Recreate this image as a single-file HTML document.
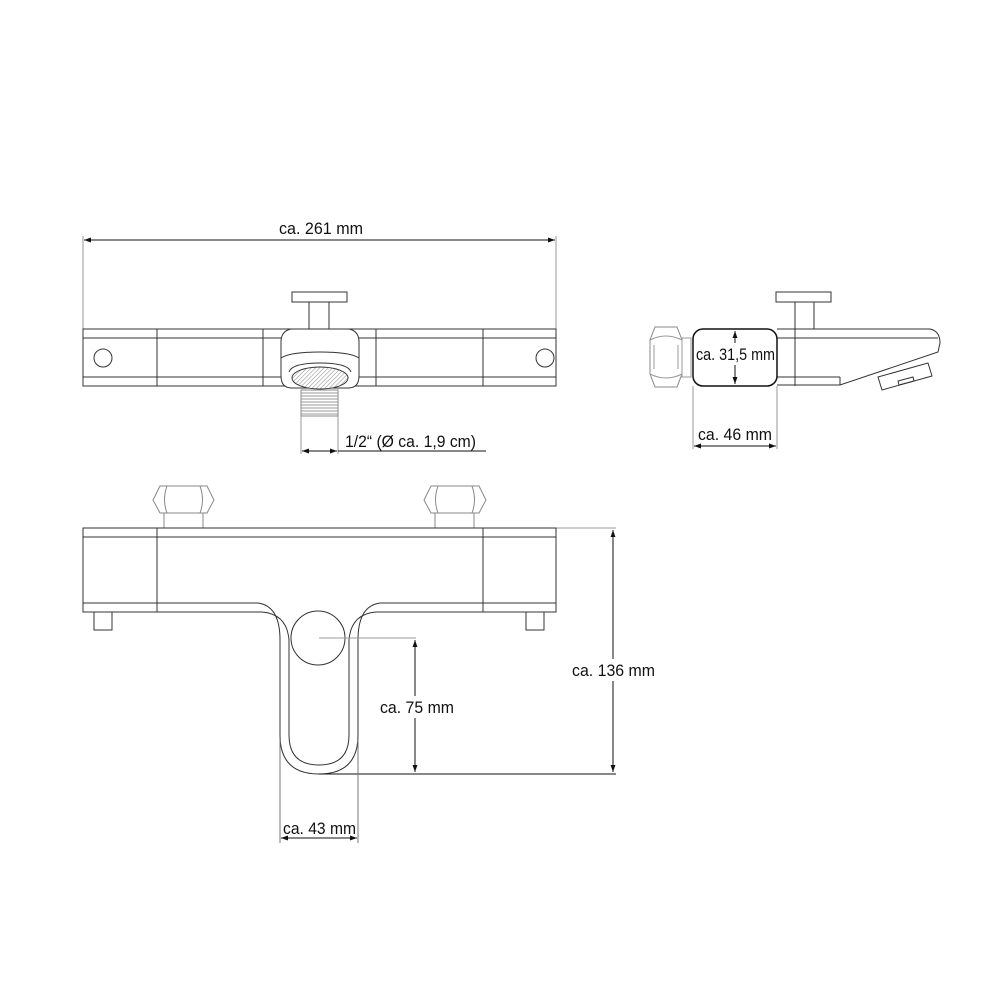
<!DOCTYPE html>
<html><head><meta charset="utf-8"><style>
html,body{margin:0;padding:0;background:#fff;}
svg{display:block;}
text{font-family:"Liberation Sans Narrow","Liberation Sans",sans-serif;font-size:17px;fill:#111;}
</style></head><body>
<svg width="1000" height="1000" viewBox="0 0 1000 1000" xmlns="http://www.w3.org/2000/svg">
<defs>
<marker id="a" viewBox="0 0 10 10" refX="10" refY="5" markerWidth="7" markerHeight="7" orient="auto-start-reverse"><path d="M0,1.5 L10,5 L0,8.5 z" fill="#111"/></marker>
<pattern id="h" width="3" height="3" patternUnits="userSpaceOnUse" patternTransform="rotate(45)"><rect width="3" height="3" fill="#fff"/><line x1="0" y1="0" x2="0" y2="3" stroke="#888" stroke-width="1"/></pattern>
</defs>
<g fill="none" stroke="#333" stroke-width="1">
<!-- TOP VIEW -->
<line x1="83" y1="236" x2="83" y2="329" stroke="#999"/>
<line x1="556" y1="236" x2="556" y2="329" stroke="#999"/>
<line x1="84" y1="240" x2="555" y2="240" stroke="#111" marker-start="url(#a)" marker-end="url(#a)"/>
<rect x="83" y="329" width="473" height="57" fill="#fff"/>
<line x1="83" y1="338" x2="556" y2="338"/>
<line x1="83" y1="377" x2="556" y2="377"/>
<line x1="157" y1="329" x2="157" y2="386"/>
<line x1="263" y1="329" x2="263" y2="386"/>
<line x1="376" y1="329" x2="376" y2="386"/>
<line x1="483" y1="329" x2="483" y2="386"/>
<circle cx="103" cy="358" r="9"/>
<circle cx="545" cy="358" r="9"/>
<rect x="292" y="292" width="55" height="10" fill="#fff"/>
<rect x="309" y="302" width="20" height="27" fill="#fff"/>
<path d="M291,329 L349,329 Q359,331 359,342 L359,376 Q359,388 348,388 L292,388 Q281,388 281,376 L281,342 Q281,331 291,329 Z" fill="#fff"/>
<path d="M281,358 Q290,352 320,352 Q350,352 359,358"/>
<path d="M289,372 Q292,363 320,363 Q348,363 351,372"/>
<ellipse cx="320" cy="378" rx="28" ry="11" fill="url(#h)"/>
<rect x="301" y="390" width="37" height="26" fill="#fff" stroke="#888"/>
<g stroke="#999"><line x1="301" y1="393" x2="338" y2="393"/><line x1="301" y1="396" x2="338" y2="396"/><line x1="301" y1="399" x2="338" y2="399"/><line x1="301" y1="402" x2="338" y2="402"/><line x1="301" y1="405" x2="338" y2="405"/><line x1="301" y1="408" x2="338" y2="408"/><line x1="301" y1="411" x2="338" y2="411"/><line x1="301" y1="414" x2="338" y2="414"/></g>
<line x1="301" y1="416" x2="301" y2="454" stroke="#999"/>
<line x1="338" y1="416" x2="338" y2="454" stroke="#999"/>
<line x1="302" y1="451" x2="337" y2="451" stroke="#111" marker-start="url(#a)" marker-end="url(#a)"/>
<line x1="338" y1="451" x2="486" y2="451" stroke="#111"/>
<!-- SIDE VIEW -->
<path d="M655,327 L677,327 L682,340 L682,374 L677,387 L655,387 L650,374 L650,340 Z" stroke="#888"/>
<path d="M650,340 Q666,332 682,340 M650,374 Q666,382 682,374 M654,345 L654,369 M678,345 L678,369" stroke="#999"/>
<rect x="682" y="338" width="9" height="39" stroke="#999"/>
<rect x="776" y="292" width="55" height="10" fill="#fff"/>
<line x1="795" y1="302" x2="795" y2="386"/>
<line x1="814" y1="302" x2="814" y2="329"/>
<path d="M777,329 L930,329 Q940,331 940,343 L938,352 L840,385 L777,385"/>
<line x1="777" y1="338" x2="938" y2="338"/>
<line x1="777" y1="377" x2="840" y2="377"/>
<line x1="840" y1="377" x2="840" y2="385"/>
<path d="M878,377 L928,363 L932,376 L882,390 Z"/>
<path d="M898,381 L913,377 L914,381 L899,385 Z"/>
<rect x="693" y="329" width="84" height="57" rx="10" stroke="#111" stroke-width="1.5" fill="#fff"/>
<line x1="735" y1="331" x2="735" y2="384" stroke="#111" marker-start="url(#a)" marker-end="url(#a)"/>
<line x1="693" y1="386" x2="693" y2="449" stroke="#999"/>
<line x1="777" y1="386" x2="777" y2="449" stroke="#999"/>
<line x1="694" y1="446" x2="776" y2="446" stroke="#111" marker-start="url(#a)" marker-end="url(#a)"/>
<!-- FRONT VIEW -->
<g stroke="#888">
<path d="M160,486 L207,486 L214,500 L207,513 L160,513 L153,500 Z"/>
<path d="M167,486 Q162,500 167,513 M200,486 Q205,500 200,513"/>
<rect x="164" y="513" width="39" height="15"/>
<path d="M431,486 L479,486 L486,500 L479,513 L431,513 L424,500 Z"/>
<path d="M438,486 Q433,500 438,513 M472,486 Q477,500 472,513"/>
<rect x="435" y="513" width="39" height="15"/>
</g>
<line x1="556" y1="528" x2="616" y2="528" stroke="#999"/>
<path d="M262,612 L83,612 L83,528 L556,528 L556,612 L376,612" fill="#fff"/>
<line x1="83" y1="537" x2="556" y2="537"/>
<line x1="83" y1="603" x2="157" y2="603"/>
<line x1="483" y1="603" x2="556" y2="603"/>
<line x1="157" y1="528" x2="157" y2="612"/>
<line x1="483" y1="528" x2="483" y2="612"/>
<rect x="94" y="612" width="18" height="18"/>
<rect x="526" y="612" width="18" height="18"/>
<path d="M157,603 L258,603 Q280,606 280,640 L280,735 Q280,774 319,774 Q358,774 358,735 L358,640 Q358,606 380,603 L483,603"/>
<path d="M157,612 L262,612 Q287,614 289,640 L289,735 Q289,765 319,765 Q349,765 349,735 L349,640 Q351,614 376,612 L483,612"/>
<circle cx="318" cy="638" r="27"/>
<line x1="319" y1="638" x2="416" y2="638" stroke="#999"/>
<line x1="415" y1="640" x2="415" y2="772" stroke="#111" marker-start="url(#a)" marker-end="url(#a)"/>
<line x1="319" y1="774" x2="616" y2="774" stroke="#111"/>
<line x1="613" y1="530" x2="613" y2="772" stroke="#111" marker-start="url(#a)" marker-end="url(#a)"/>
<line x1="280" y1="740" x2="280" y2="843" stroke="#777"/>
<line x1="358" y1="740" x2="358" y2="843" stroke="#777"/>
<line x1="281" y1="838" x2="357" y2="838" stroke="#111" marker-start="url(#a)" marker-end="url(#a)"/>
</g>
<rect x="696" y="343" width="80" height="22" fill="#fff"/>
<rect x="378" y="696" width="78" height="22" fill="#fff"/>
<rect x="570" y="659" width="88" height="22" fill="#fff"/>
<text x="279" y="234" textLength="84" lengthAdjust="spacingAndGlyphs">ca. 261 mm</text>
<text x="345" y="447" textLength="131" lengthAdjust="spacingAndGlyphs">1/2“ (Ø ca. 1,9 cm)</text>
<text x="696" y="360" textLength="79" lengthAdjust="spacingAndGlyphs">ca. 31,5 mm</text>
<text x="698" y="440" textLength="74" lengthAdjust="spacingAndGlyphs">ca. 46 mm</text>
<text x="380" y="713" textLength="74" lengthAdjust="spacingAndGlyphs">ca. 75 mm</text>
<text x="572" y="676" textLength="83" lengthAdjust="spacingAndGlyphs">ca. 136 mm</text>
<text x="283" y="834" textLength="73" lengthAdjust="spacingAndGlyphs">ca. 43 mm</text>
</svg>
</body></html>
